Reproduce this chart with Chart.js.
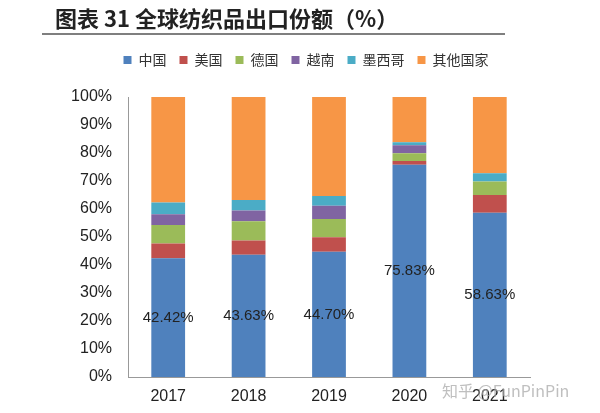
<!DOCTYPE html>
<html>
<head>
<meta charset="utf-8">
<script src="https://cdn.jsdelivr.net/npm/chart.js@4"></script>
<style>
  html, body { margin: 0; padding: 0; background: #fff; }
  #wrap { width: 600px; height: 413px; position: relative; }
</style>
</head>
<body>
<div id="wrap"><canvas id="exportChart" width="600" height="413"></canvas></div>
<script>
// 全球纺织品出口份额 (%)
var years = ['2017', '2018', '2019', '2020', '2021'];
var china = [42.42, 43.63, 44.70, 75.83, 58.63];
var usa = [5.3, 5.1, 5.2, 1.3, 6.4];
var germany = [6.6, 6.9, 6.5, 2.8, 4.8];
var vietnam = [3.8, 3.8, 4.8, 2.8, 0];
var mexico = [4.2, 3.8, 3.4, 1.1, 2.9];
var others = [37.68, 36.77, 35.4, 16.17, 27.27];
var seriesNames = ['中国', '美国', '德国', '越南', '墨西哥', '其他国家'];
var seriesColors = ['#4f81bd', '#c0504d', '#9bbb59', '#8064a2', '#4bacc6', '#f79646'];

var titleText = '图表 31 全球纺织品出口份额（%）';
var watermark = '知乎 @FunPinPin';

// title + underline, watermark
var decorPlugin = {
    id: 'decor',
    beforeDraw: function (chart) {
        var ctx = chart.ctx;
        ctx.save();
        ctx.fillStyle = '#222';
        ctx.font = 'bold 22px "Noto Sans CJK SC", sans-serif';
        ctx.textBaseline = 'alphabetic';
        ctx.fillText(titleText, 55, 27);
        ctx.strokeStyle = '#555';
        ctx.lineWidth = 1.5;
        ctx.beginPath();
        ctx.moveTo(42, 34);
        ctx.lineTo(505, 34);
        ctx.stroke();
        ctx.restore();
    },
    afterDraw: function (chart) {
        var ctx = chart.ctx;
        ctx.save();
        ctx.fillStyle = 'rgba(170,170,170,0.75)';
        ctx.font = '16px "Noto Sans CJK SC", sans-serif';
        ctx.textBaseline = 'middle';
        ctx.fillText(watermark, 442, 391);
        ctx.restore();
    }
};

// value labels in the middle of the China segments
var chinaLabels = {
    id: 'chinaLabels',
    afterDatasetsDraw: function (chart) {
        var ctx = chart.ctx;
        var meta = chart.getDatasetMeta(0);
        ctx.save();
        ctx.fillStyle = '#222';
        ctx.font = '15px "Liberation Sans", Arial, sans-serif';
        ctx.textAlign = 'center';
        ctx.textBaseline = 'middle';
        meta.data.forEach(function (bar, i) {
            ctx.fillText(china[i].toFixed(2) + '%', bar.x, (bar.y + bar.base) / 2);
        });
        ctx.restore();
    }
};

// extra room under the legend, and shift it to the right a bit
var legendGap = {
    id: 'legendGap',
    beforeInit: function (chart) {
        var origFit = chart.legend.fit;
        chart.legend.fit = function () {
            origFit.bind(chart.legend)();
            this.height += 20;
        };
    },
    afterLayout: function (chart) {
        chart.legend.left = 82;
    }
};

var seriesData = [china, usa, germany, vietnam, mexico, others];
var datasets = seriesNames.map(function (name, i) {
    return {
        label: name,
        data: seriesData[i],
        backgroundColor: seriesColors[i],
        borderWidth: 0,
        categoryPercentage: 1,
        barPercentage: 0.42
    };
});

var ctx = document.getElementById('exportChart').getContext('2d');
var exportChart = new Chart(ctx, {
    type: 'bar',
    data: { labels: years, datasets: datasets },
    options: {
        responsive: false,
        animation: false,
        layout: { padding: { top: 40, left: 0, right: 70, bottom: 6 } },
        plugins: {
            legend: {
                position: 'top',
                labels: {
                    boxWidth: 8,
                    boxHeight: 8,
                    padding: 13,
                    color: '#333',
                    font: { size: 14, family: '"Noto Sans CJK SC", sans-serif' }
                }
            },
            tooltip: { enabled: false }
        },
        scales: {
            x: {
                stacked: true,
                grid: { display: false, drawTicks: false },
                border: { display: true, color: '#999' },
                ticks: {
                    padding: 10,
                    color: '#222',
                    font: { size: 16, family: '"Liberation Sans", Arial, sans-serif' }
                },
                afterFit: function (scale) { scale.height = 30; }
            },
            y: {
                stacked: true,
                min: 0,
                max: 100,
                grid: { display: false, drawTicks: false },
                border: { display: true, color: '#999' },
                ticks: {
                    stepSize: 10,
                    padding: 16,
                    color: '#222',
                    font: { size: 16, family: '"Liberation Sans", Arial, sans-serif' },
                    callback: function (v) { return v + '%'; }
                },
                afterFit: function (scale) { scale.width = 128; }
            }
        }
    },
    plugins: [decorPlugin, chinaLabels, legendGap]
});
</script>
</body>
</html>
